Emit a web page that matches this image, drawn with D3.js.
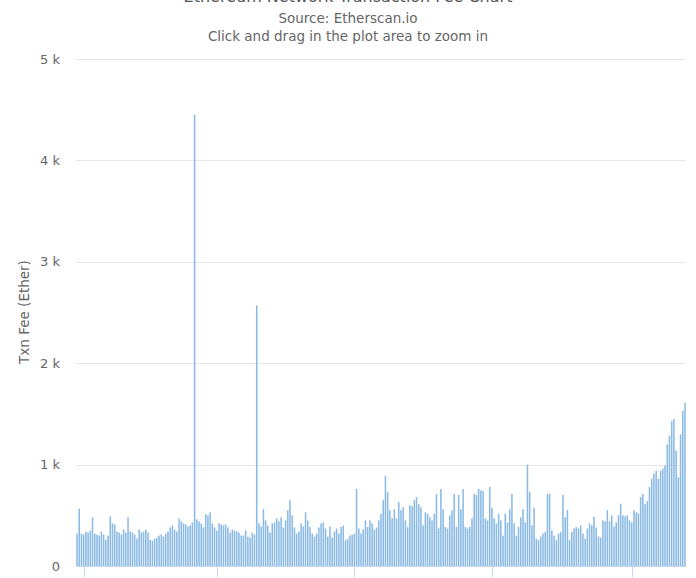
<!DOCTYPE html>
<html>
<head>
<meta charset="utf-8">
<script src="https://cdn.jsdelivr.net/npm/d3@7"></script>
<style>
  html, body { margin: 0; padding: 0; background: #fff; overflow: hidden; }
  svg { display: block; font-family: "DejaVu Sans", "Lucida Grande", Arial, sans-serif; }
</style>
</head>
<body>
<svg id="chart" width="696" height="578"></svg>
<script>
// ---- data ----
const titleText = "Ethereum Network Transaction Fee Chart";
const subtitleLines = ["Source: Etherscan.io", "Click and drag in the plot area to zoom in"];
const yAxisTitle = "Txn Fee (Ether)";
const yTicks = [0, 1000, 2000, 3000, 4000, 5000];
const yTickLabels = ["0", "1 k", "2 k", "3 k", "4 k", "5 k"];
const xTickIndices = [3, 63, 125, 187, 250];

// daily transaction fee (Ether)
const fees = [
  320, 565, 320, 310, 340, 330, 350, 480, 320, 310,
  300, 340, 310, 260, 300, 490, 420, 410, 340, 330,
  310, 360, 330, 480, 340, 330, 310, 270, 360, 330,
  340, 360, 330, 260, 250, 270, 280, 300, 310, 290,
  320, 340, 380, 400, 360, 340, 470, 440, 420, 410,
  390, 400, 430, 4450, 460, 440, 420, 380, 510, 500,
  530, 420, 380, 350, 420, 410, 400, 410, 380, 330,
  360, 350, 340, 330, 300, 300, 350, 290, 280, 330,
  310, 2570, 420, 390, 560, 450, 400, 330, 420, 430,
  470, 440, 480, 380, 450, 550, 650, 500, 380, 320,
  340, 420, 390, 530, 450, 385, 320, 290, 320, 380,
  420, 430, 370, 290, 390, 280, 340, 370, 320, 385,
  400, 255, 270, 300, 310, 320, 760, 370, 320, 360,
  450, 385, 450, 420, 360, 380, 450, 515, 650, 890,
  730, 550, 470, 560, 470, 630, 550, 580, 450, 385,
  600, 590, 650, 680, 610, 580, 400, 530, 515, 480,
  450, 515, 710, 370, 760, 560, 385, 370, 500, 550,
  710, 385, 700, 560, 760, 385, 370, 385, 470, 710,
  700, 760, 745, 740, 470, 450, 780, 575, 470, 420,
  515, 450, 300, 515, 430, 560, 712, 420, 300, 385,
  480, 560, 430, 1000, 730, 400, 575, 270, 255, 290,
  320, 335, 712, 712, 350, 300, 255, 320, 335, 700,
  480, 550, 255, 335, 370, 385, 370, 400, 320, 270,
  370, 420, 400, 485, 380, 290, 280, 450, 440, 550,
  440, 500, 390, 430, 500, 615, 500, 490, 500, 450,
  430, 550, 530, 520, 680, 710, 610, 640, 780, 860,
  910, 940, 860, 940, 960, 990, 1200, 1285, 1430, 1450,
  1140, 875, 1300, 1530, 1610
];
const days = fees.map((d, i) => i);

// ---- layout ----
const svg = d3.select("#chart");
const W = 696;
const plot = { left: 76, right: 686, top: 59, bottom: 566 };

const x = d3.scaleBand().domain(days).range([plot.left, plot.right]).paddingInner(0.3).paddingOuter(0.1);
const y = d3.scaleLinear().domain([0, 5000]).range([plot.bottom, plot.top]);

// titles (the title sits mostly above the visible area, as in the reference)
svg.append("text").attr("x", W / 2).attr("y", 2).attr("text-anchor", "middle")
  .attr("font-size", 16).attr("fill", "#555").text(titleText);
svg.selectAll("text.sub").data(subtitleLines).enter().append("text")
  .attr("class", "sub").attr("x", W / 2).attr("y", (d, i) => 23 + i * 18)
  .attr("text-anchor", "middle").attr("font-size", 13.5).attr("fill", "#666").text(d => d);

// gridlines
svg.append("g").selectAll("line").data(yTicks.filter(d => d > 0)).enter().append("line")
  .attr("x1", plot.left).attr("x2", plot.right)
  .attr("y1", d => Math.round(y(d)) + 0.5).attr("y2", d => Math.round(y(d)) + 0.5)
  .attr("stroke", "#e6e6e6").attr("stroke-width", 1);

// y axis labels
const yAxis = d3.axisLeft(y).tickValues(yTicks).tickSize(0).tickPadding(0)
  .tickFormat((d, i) => yTickLabels[i]);
const gy = svg.append("g").attr("transform", `translate(${plot.left - 16},0)`).call(yAxis);
gy.select(".domain").remove();
gy.selectAll("text").attr("font-size", 13).attr("fill", "#666")
  .attr("font-family", "DejaVu Sans, sans-serif");

// y axis title
svg.append("text").attr("transform", `translate(29,312) rotate(-90)`)
  .attr("text-anchor", "middle").attr("font-size", 13.5).attr("fill", "#666").text(yAxisTitle);

// bars
svg.append("g").selectAll("rect").data(fees).enter().append("rect")
  .attr("x", (d, i) => x(i))
  .attr("width", x.bandwidth())
  .attr("y", d => y(d))
  .attr("height", d => y(0) - y(d))
  .attr("fill", "#8bbae4");

// x axis line and ticks
svg.append("line").attr("x1", plot.left).attr("x2", plot.right)
  .attr("y1", plot.bottom + 0.5).attr("y2", plot.bottom + 0.5)
  .attr("stroke", "#ccd6eb");
svg.append("g").selectAll("line").data(xTickIndices).enter().append("line")
  .attr("x1", d => Math.round(x(d) + x.bandwidth() / 2) + 0.5)
  .attr("x2", d => Math.round(x(d) + x.bandwidth() / 2) + 0.5)
  .attr("y1", plot.bottom).attr("y2", plot.bottom + 11)
  .attr("stroke", "#ccd6eb");
</script>
</body>
</html>
